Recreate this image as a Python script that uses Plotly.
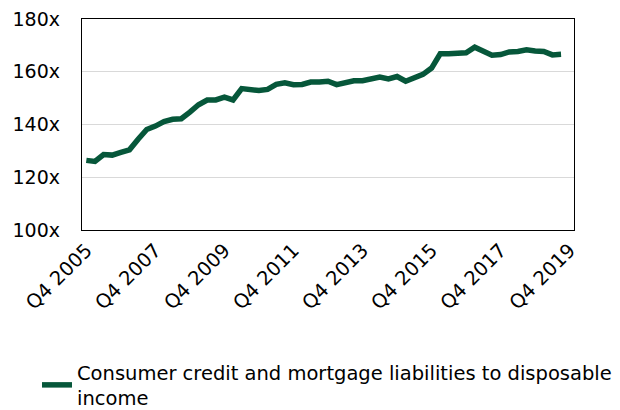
import plotly.graph_objects as go

quarters = [f"Q{((q + 3) % 4) + 1} {2005 + (q + 3) // 4}" for q in range(57)]
# Categories Q4 2005 .. Q4 2019
ratio = [126.4, 126.0, 128.6, 128.4, 129.4, 130.4, 134.4, 138.1, 139.4, 141.1,
         142.0, 142.2, 144.7, 147.5, 149.3, 149.3, 150.4, 149.3, 153.6, 153.2,
         152.9, 153.3, 155.2, 155.8, 155.1, 155.2, 156.1, 156.1, 156.4, 155.1,
         155.8, 156.6, 156.6, 157.1, 158.0, 157.3, 158.2, 156.4, 157.5, 159.0,
         161.4, 166.8, 166.8, 166.9, 167.2, 169.3, 167.9, 166.3, 166.5, 167.5,
         167.7, 168.3, 167.9, 167.7, 166.4, 166.6, None]
tick_labels = ["Q4 2005", "Q4 2007", "Q4 2009", "Q4 2011", "Q4 2013", "Q4 2015", "Q4 2017", "Q4 2019"]
y_ticks = [100, 120, 140, 160, 180]
y_tick_text = ["100x", "120x", "140x", "160x", "180x"]
series_name = "Consumer credit and mortgage liabilities to disposable<br>income"

font = "DejaVu Sans, sans-serif"

fig = go.Figure()
fig.add_trace(go.Scatter(
    x=quarters, y=ratio, mode="lines", name=series_name,
    line=dict(color="#06573A", width=5.5, shape="linear"),
    connectgaps=False,
))

fig.update_layout(
    width=620, height=410,
    margin=dict(l=74, r=54, t=11, b=188, autoexpand=False),
    paper_bgcolor="white", plot_bgcolor="white",
    font=dict(family=font, color="black", size=18),
    showlegend=True,
    legend=dict(orientation="h", x=-0.0915, xanchor="left", y=-0.583, yanchor="top",
                font=dict(size=19.5, family=font), bgcolor="rgba(0,0,0,0)",
                itemwidth=30, tracegroupgap=0),
    xaxis=dict(
        type="category", categoryorder="array", categoryarray=quarters,
        range=[-0.5, 56.5], automargin=False, ticklabeloverflow="allow",
        tickmode="array", tickvals=tick_labels, ticktext=tick_labels,
        tickangle=-45, tickfont=dict(size=19.5),
        showgrid=False, showline=True, linecolor="black", linewidth=1.3,
        mirror=True, ticks="", zeroline=False,
    ),
    yaxis=dict(
        range=[100, 180], tickmode="array", tickvals=y_ticks, ticktext=y_tick_text,
        tickfont=dict(size=19), automargin=False, ticklabeloverflow="allow",
        showgrid=True, gridcolor="#D9D9D9", gridwidth=1.3,
        showline=True, linecolor="black", linewidth=1.3, mirror=True,
        ticks="", zeroline=False, ticklabelstandoff=17,
    ),
)

fig.write_html("out.html")
